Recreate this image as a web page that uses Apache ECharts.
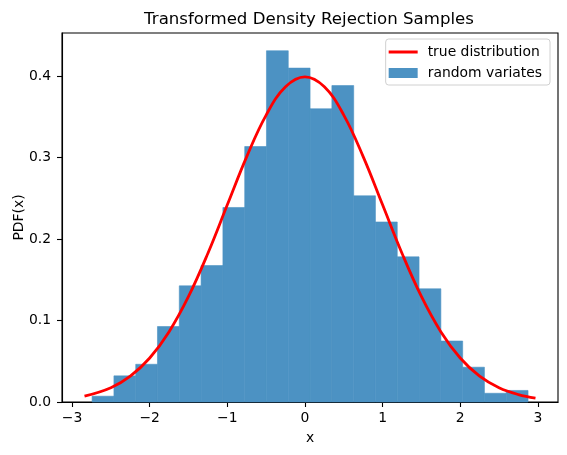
<!DOCTYPE html>
<html>
<head>
<meta charset="utf-8">
<script src="https://cdn.jsdelivr.net/npm/echarts@6/dist/echarts.min.js"></script>
<style>
html,body{margin:0;padding:0;background:#fff;}
#chart{width:567px;height:455px;}
</style>
</head>
<body>
<div id="chart"></div>
<script>
// Histogram bin edges (x) and densities
const binEdges = [-2.742, -2.461, -2.180, -1.900, -1.619, -1.338, -1.057, -0.776, -0.496, -0.215,
                  0.066, 0.347, 0.628, 0.908, 1.189, 1.470, 1.751, 2.032, 2.312, 2.593, 2.874];
const binDensity = [0.0071, 0.0321, 0.0463, 0.0926, 0.1425, 0.1674, 0.2387, 0.3135, 0.4310, 0.4097,
                    0.3598, 0.3883, 0.2530, 0.2209, 0.1781, 0.1389, 0.0748, 0.0427, 0.0107, 0.0142];
// True distribution curve points
const curveX = [-2.84, -2.5, -2.25, -2.0, -1.75, -1.5, -1.25, -1.0, -0.75, -0.5, -0.25, 0.0,
                0.25, 0.5, 0.75, 1.0, 1.25, 1.5, 1.75, 2.0, 2.25, 2.5, 2.75, 2.97];
const curveY = [0.0071, 0.0175, 0.0317, 0.0540, 0.0863, 0.1295, 0.1826, 0.2420, 0.3011, 0.3521, 0.3867, 0.3989,
                0.3867, 0.3521, 0.3011, 0.2420, 0.1826, 0.1295, 0.0863, 0.0540, 0.0317, 0.0175, 0.0091, 0.0048];
const xTicks = [-3, -2, -1, 0, 1, 2, 3];
const yTicks = [0.0, 0.1, 0.2, 0.3, 0.4];

const histData = binDensity.map((d, i) => [binEdges[i], binEdges[i + 1], d]);
const curveData = curveX.map((x, i) => [x, curveY[i]]);

const FONT = 'DejaVu Sans';
const BAR = '#4c92c3';
const chart = echarts.init(document.getElementById('chart'));
chart.setOption({
  animation: false,
  backgroundColor: '#fff',
  textStyle: { fontFamily: FONT },
  title: {
    text: 'Transformed Density Rejection Samples',
    left: 304, top: 6, textAlign: 'center',
    textStyle: { fontFamily: FONT, fontSize: 16.6, fontWeight: 'normal', color: '#000' }
  },
  grid: {
    left: 62, right: 9, top: 33, bottom: 53,
    outerBoundsMode: 'none', containLabel: false,
    show: true, borderColor: '#000', borderWidth: 1.1, backgroundColor: 'transparent'
  },
  legend: {
    orient: 'vertical', right: 17, top: 39,
    padding: [6, 8, 5, 3], itemGap: 7, itemWidth: 29, itemHeight: 10,
    backgroundColor: '#fff', borderColor: '#d0d0d0', borderWidth: 1, borderRadius: 3,
    textStyle: { fontFamily: FONT, fontSize: 13.9, color: '#000', padding: [0, 0, 0, 5] },
    data: [
      { name: 'true distribution', icon: 'path://M0,0 L29,0 L29,3 L0,3 Z', itemStyle: { color: '#ff0000' } },
      { name: 'random variates', icon: 'rect', itemStyle: { color: BAR } }
    ]
  },
  xAxis: {
    type: 'value', min: -3.13, max: 3.26,
    name: 'x', nameLocation: 'middle', nameGap: 29, nameMoveOverlap: false,
    nameTextStyle: { fontFamily: FONT, fontSize: 13.9, color: '#000' },
    axisLine: { show: true, onZero: false, lineStyle: { color: '#000', width: 1.1 } },
    splitLine: { show: false },
    axisTick: { show: true, customValues: xTicks, length: 5, lineStyle: { color: '#000', width: 1.1 } },
    axisLabel: {
      customValues: xTicks, margin: 9, fontFamily: FONT, fontSize: 13.9, color: '#000',
      formatter: v => String(v).replace('-', '\u2212')
    }
  },
  yAxis: {
    type: 'value', min: 0, max: 0.4528,
    name: 'PDF(x)', nameLocation: 'middle', nameGap: 36, nameMoveOverlap: false,
    nameTextStyle: { fontFamily: FONT, fontSize: 13.9, color: '#000' },
    axisLine: { show: true, onZero: false, lineStyle: { color: '#000', width: 1.1 } },
    splitLine: { show: false },
    axisTick: { show: true, customValues: yTicks, length: 5, lineStyle: { color: '#000', width: 1.1 } },
    axisLabel: {
      customValues: yTicks, margin: 11, fontFamily: FONT, fontSize: 13.9, color: '#000',
      formatter: v => v.toFixed(1)
    }
  },
  series: [
    {
      name: 'random variates',
      type: 'custom',
      z: 1,
      data: histData,
      encode: { x: [0, 1], y: 2 },
      renderItem: function (params, api) {
        const p0 = api.coord([api.value(0), 0]);
        const p1 = api.coord([api.value(1), api.value(2)]);
        return {
          type: 'rect',
          shape: { x: p0[0], y: p1[1], width: p1[0] - p0[0], height: p0[1] - p1[1] },
          style: { fill: BAR, stroke: BAR, lineWidth: 0.6 }
        };
      }
    },
    {
      name: 'true distribution',
      type: 'line',
      z: 3,
      data: curveData,
      symbol: 'none',
      smooth: 0.4,
      lineStyle: { color: '#ff0000', width: 2.8 },
      itemStyle: { color: '#ff0000' }
    }
  ]
});
</script>
</body>
</html>
